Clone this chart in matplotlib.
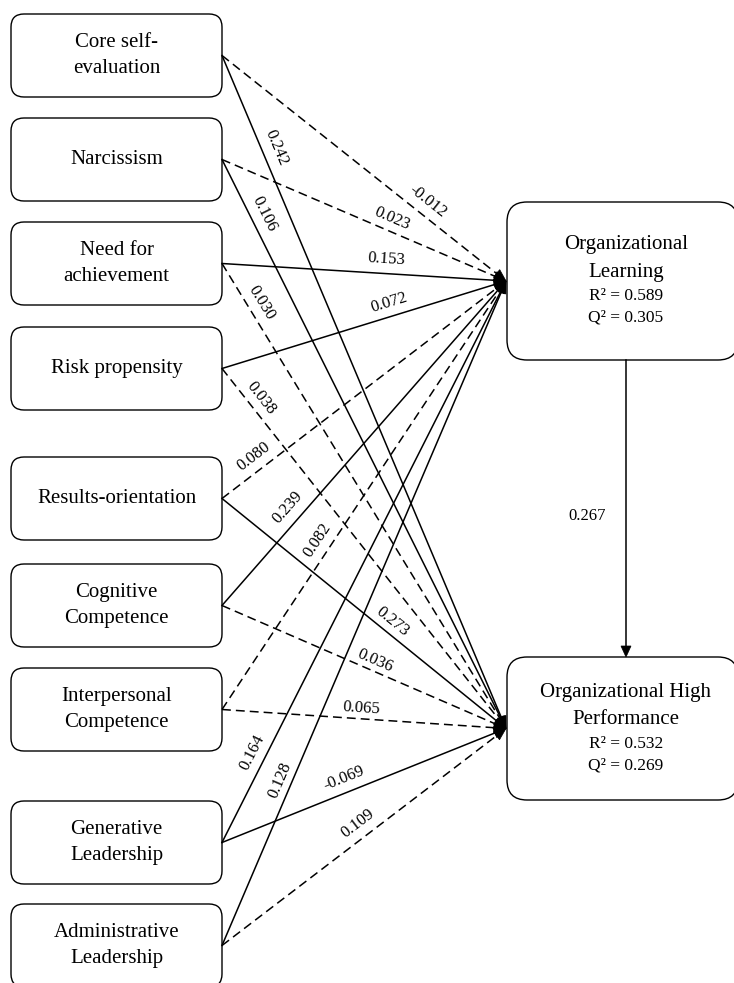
import numpy as np
import matplotlib
matplotlib.use("Agg")
import matplotlib.pyplot as plt
from matplotlib.patches import FancyBboxPatch, Polygon

plt.rcParams["font.family"] = ["Liberation Serif", "DejaVu Serif"]

# ---- model data ----
predictors = ["Core self-\nevaluation", "Narcissism", "Need for\nachievement",
              "Risk propensity", "Results-orientation", "Cognitive\nCompetence",
              "Interpersonal\nCompetence", "Generative\nLeadership",
              "Administrative\nLeadership"]
coef_ol = ["-0.012", "0.023", "0.153", "0.072", "0.080", "0.239", "0.082", "0.164", "0.128"]
coef_ohp = ["0.242", "0.106", "0.030", "0.038", "0.273", "0.036", "0.065", "-0.069", "0.109"]
solid_ol = [False, False, True, True, False, True, False, True, True]
solid_ohp = [True, True, False, False, True, False, False, True, False]
coef_ol_ohp = "0.267"
outcomes = ["Organizational\nLearning", "Organizational High\nPerformance"]
r2 = ["0.589", "0.532"]
q2 = ["0.305", "0.269"]

# ---- layout (pixels, y down) ----
W, H = 734, 983
left_x0, left_x1 = 11, 222
left_top = [14, 118, 222, 327, 457, 564, 668, 801, 904]
left_h = 83
right_x0, right_x1 = 507, 738
right_box = [(202, 360), (657, 800)]
arrow_x = 626
# label position along each edge (fraction from source) and side offset in px
t_ol = [0.694, 0.581, 0.575, 0.601, 0.141, 0.272, 0.376, 0.149, 0.242]
off_ol = [14, 12, 14, 14, 14, 15, 14, 14, 12]
t_ohp = [0.145, 0.106, 0.100, 0.104, 0.574, 0.524, 0.489, 0.447, 0.509]
off_ohp = [14, 14, 13, 12, 11, 10, 11, 14, 15]

DASH = (0, (5.8, 3.3))
LW = 1.1

fig = plt.figure(figsize=(W / 100, H / 100), dpi=100)
ax = fig.add_axes([0, 0, 1, 1])
ax.set_xlim(0, W)
ax.set_ylim(H, 0)
ax.axis("off")


def rbox(x0, y0, x1, y1, r):
    ax.add_patch(FancyBboxPatch((x0 + r, y0 + r), x1 - x0 - 2 * r, y1 - y0 - 2 * r,
                                boxstyle=f"round,pad={r}", fc="white", ec="black",
                                lw=1.0, zorder=1))


def head(tip, u, length=12, half=5):
    n = np.array([-u[1], u[0]])
    base = tip - length * u
    ax.add_patch(Polygon([tip, base + half * n, base - half * n], closed=True,
                         fc="black", ec="black", lw=0.5, zorder=4))


# left boxes
src = []
for name, top in zip(predictors, left_top):
    rbox(left_x0, top, left_x1, top + left_h, 13)
    cy = top + left_h / 2
    ax.text((left_x0 + left_x1) / 2, cy, name, ha="center", va="center",
            fontsize=15, linespacing=1.5, zorder=5)
    src.append(np.array([left_x1, cy]))

# right boxes
targets = []
for (y0, y1), name, r, q in zip(right_box, outcomes, r2, q2):
    rbox(right_x0, y0, right_x1, y1, 20)
    cy = (y0 + y1) / 2
    l1, l2 = name.split("\n")
    for dy, s, fs in [(-36, l1, 15), (-9, l2, 15), (15, f"R² = {r}", 12.5),
                      (37, f"Q² = {q}", 12.5)]:
        ax.text(arrow_x, cy + dy, s, ha="center", va="center", fontsize=fs, zorder=5)
    targets.append(np.array([right_x0 - 1, cy]))


def edge(s, t, label, solid, frac, off):
    d = t - s
    L = np.hypot(*d)
    u = d / L
    ax.plot([s[0], t[0] - 8 * u[0]], [s[1], t[1] - 8 * u[1]], color="black", lw=LW,
            linestyle="-" if solid else DASH, zorder=2)
    head(t, u)
    n = np.array([d[1], -d[0]]) / L
    p = s + frac * d + off * n
    ang = np.degrees(np.arctan2(-d[1], d[0]))
    ax.text(p[0], p[1], label, ha="center", va="center", rotation=ang,
            rotation_mode="anchor", fontsize=12, zorder=5)


for i in range(len(predictors)):
    edge(src[i], targets[0], coef_ol[i], solid_ol[i], t_ol[i], off_ol[i])
    edge(src[i], targets[1], coef_ohp[i], solid_ohp[i], t_ohp[i], off_ohp[i])

# OL -> OHP
y_from, y_to = right_box[0][1], right_box[1][0]
ax.plot([arrow_x, arrow_x], [y_from, y_to - 8], color="black", lw=LW, zorder=2)
head(np.array([arrow_x, y_to]), np.array([0.0, 1.0]), length=11, half=5)
ax.text(587, (y_from + y_to) / 2 + 8, coef_ol_ohp, ha="center", va="center", fontsize=12)

fig.savefig("out.png", dpi=100, facecolor="white")
